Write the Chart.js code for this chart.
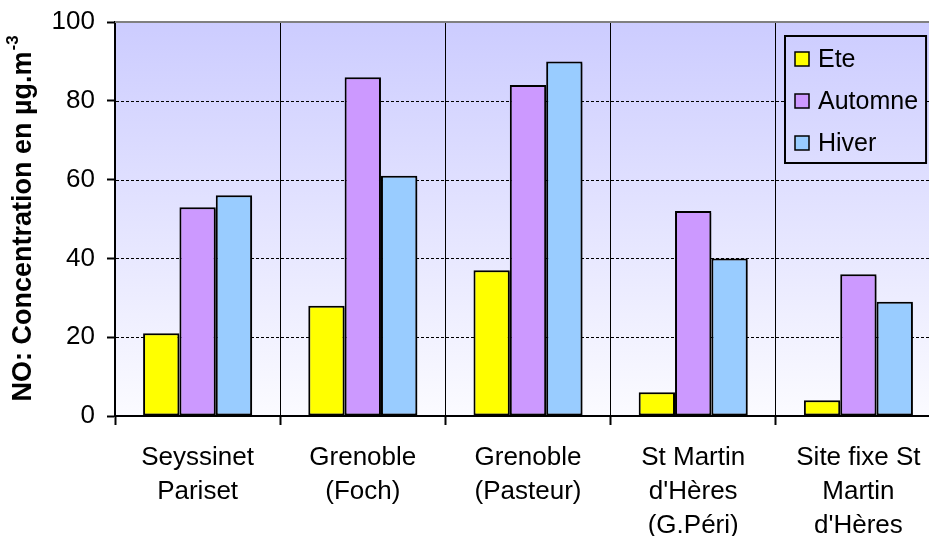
<!DOCTYPE html>
<html>
<head>
<meta charset="utf-8">
<title>NO: Concentration en µg.m-3</title>
<script src="https://cdn.jsdelivr.net/npm/chart.js@4/dist/chart.umd.min.js"></script>
<style>
  html, body { margin: 0; padding: 0; background: #fff; overflow: hidden; }
  canvas { display: block; }
</style>
</head>
<body>
<canvas id="c" width="945" height="536"></canvas>
<script>
// Sites (multi-line labels) and seasonal NO concentrations (µg/m3)
const categories = [
  ["Seyssinet", "Pariset"],
  ["Grenoble", "(Foch)"],
  ["Grenoble", "(Pasteur)"],
  ["St Martin", "d'Hères", "(G.Péri)"],
  ["Site fixe St", "Martin", "d'Hères"]
];
const seriesNames = ["Ete", "Automne", "Hiver"];
const ete = [21, 28, 37, 6, 4];
const automne = [53, 86, 84, 52, 36];
const hiver = [56, 61, 90, 40, 29];
const yMin = 0, yMax = 100, yStep = 20;
const axisTitle = "NO: Concentration en µg.m";
const axisTitleSup = "-3";

const FONT = "'Liberation Sans', Arial, sans-serif";
const colors = ["#ffff00", "#cc99ff", "#99ccff"];

function plotGradient(chart) {
  const a = chart.chartArea;
  const g = chart.ctx.createLinearGradient(0, a.top, 0, a.bottom);
  g.addColorStop(0, "#ccccff");
  g.addColorStop(1, "#fbfbff");
  return g;
}

const backdrop = {
  id: "backdrop",
  beforeDraw(chart) {
    const { ctx, chartArea: a } = chart;
    ctx.save();
    ctx.fillStyle = plotGradient(chart);
    ctx.fillRect(a.left, a.top, a.right - a.left, a.bottom - a.top);
    ctx.restore();
  },
  beforeDatasetsDraw(chart) {
    const { ctx, chartArea: a, scales } = chart;
    const y = scales.y;
    ctx.save();
    ctx.strokeStyle = "#000";
    ctx.lineWidth = 1;
    ctx.setLineDash([3, 2]);
    for (let v = yMin + yStep; v < yMax; v += yStep) {
      const py = Math.round(y.getPixelForValue(v)) + 0.5;
      ctx.beginPath();
      ctx.moveTo(a.left + 1, py);
      ctx.lineTo(a.right, py);
      ctx.stroke();
    }
    ctx.setLineDash([]);
    ctx.strokeStyle = "#808080";
    ctx.lineWidth = 2;
    const top = y.getPixelForValue(yMax);
    ctx.beginPath();
    ctx.moveTo(a.left, top);
    ctx.lineTo(a.right, top);
    ctx.stroke();
    ctx.restore();
  },
  beforeDatasetDraw(chart) {
    const ctx = chart.ctx;
    ctx.save();
    ctx.shadowColor = "rgba(0,0,0,0.3)";
    ctx.shadowOffsetX = 2;
    ctx.shadowOffsetY = 2;
    ctx.shadowBlur = 0;
  },
  afterDatasetDraw(chart) {
    chart.ctx.restore();
  },
  afterDraw(chart) {
    const { ctx, chartArea: a } = chart;
    // Axis title with superscript exponent
    ctx.save();
    const cy = (a.top + a.bottom) / 2;
    ctx.translate(23, cy);
    ctx.rotate(-Math.PI / 2);
    ctx.fillStyle = "#000";
    ctx.textBaseline = "middle";
    ctx.font = "bold 27px " + FONT;
    const w1 = ctx.measureText(axisTitle).width;
    ctx.font = "bold 17px " + FONT;
    const w2 = ctx.measureText(axisTitleSup).width;
    const x0 = -(w1 + w2) / 2;
    ctx.font = "bold 27px " + FONT;
    ctx.fillText(axisTitle, x0, 1);
    ctx.font = "bold 17px " + FONT;
    ctx.fillText(axisTitleSup, x0 + w1 + 1, -10);
    ctx.restore();

    // Legend box inside the plot, top right
    ctx.save();
    ctx.font = "25px " + FONT;
    let maxW = 0;
    chart.data.datasets.forEach(ds => { maxW = Math.max(maxW, ctx.measureText(ds.label).width); });
    const bw = 10 + 14 + 9 + maxW + 8;
    const bh = 127;
    const bx = Math.round(a.right - 15 - bw);
    const by = a.top + 14;
    ctx.fillStyle = plotGradient(chart);
    ctx.fillRect(bx, by, bw, bh);
    ctx.strokeStyle = "#000";
    ctx.lineWidth = 2;
    ctx.strokeRect(bx, by, bw, bh);
    chart.data.datasets.forEach((ds, i) => {
      const cyI = by + 23 + i * 42;
      ctx.fillStyle = ds.backgroundColor;
      ctx.fillRect(bx + 10, cyI - 7, 14, 14);
      ctx.lineWidth = 1.5;
      ctx.strokeRect(bx + 10, cyI - 7, 14, 14);
      ctx.fillStyle = "#000";
      ctx.textBaseline = "middle";
      ctx.fillText(ds.label, bx + 33, cyI + 1);
    });
    ctx.restore();
  }
};

const seriesData = [ete, automne, hiver];

new Chart(document.getElementById("c"), {
  type: "bar",
  data: {
    labels: categories,
    datasets: seriesNames.map((name, i) => ({
      label: name,
      data: seriesData[i],
      backgroundColor: colors[i],
      borderColor: "#000",
      borderWidth: 2,
      borderSkipped: false,
      categoryPercentage: 0.66,
      barPercentage: 1
    }))
  },
  options: {
    responsive: false,
    devicePixelRatio: 1,
    animation: false,
    layout: { padding: { top: 22, right: 4, left: 0, bottom: 0 } },
    plugins: { legend: { display: false }, tooltip: { enabled: false } },
    scales: {
      x: {
        afterFit(s) { s.height = 120; s.paddingLeft = 0; s.paddingRight = 0; },
        grid: {
          offset: true,
          color: "#000",
          lineWidth: 1,
          tickLength: 9,
          tickColor: "#000",
          tickWidth: 2
        },
        border: { display: true, color: "#000", width: 2 },
        ticks: {
          color: "#000",
          font: { family: FONT, size: 26, lineHeight: 1.3 },
          padding: 16,
          maxRotation: 0,
          autoSkip: false
        }
      },
      y: {
        min: yMin,
        max: yMax,
        afterFit(s) { s.width = 115; s.paddingTop = 0; s.paddingBottom = 0; },
        grid: {
          drawOnChartArea: false,
          tickLength: 8,
          tickColor: "#000",
          tickWidth: 2
        },
        border: { display: true, color: "#000", width: 2 },
        ticks: {
          stepSize: yStep,
          color: "#000",
          font: { family: FONT, size: 26 },
          padding: 12
        }
      }
    }
  },
  plugins: [backdrop]
});
</script>
</body>
</html>
